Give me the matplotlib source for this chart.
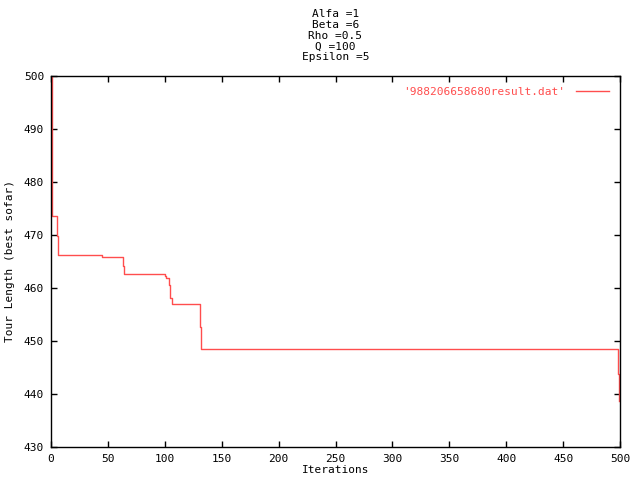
import matplotlib
matplotlib.use("Agg")
import matplotlib.pyplot as plt

# change points of best-so-far tour length (steps-post)
iterations = [0, 1, 5, 6, 45, 63, 64, 100, 101, 104, 105, 106, 131, 132, 498, 499]
tour_length = [520, 473.5, 469.8, 466.2, 465.8, 464.2, 462.6, 462.3, 461.9,
               460.6, 458.2, 457.0, 452.7, 448.4, 443.7, 438.7]
x_ticks = [0, 50, 100, 150, 200, 250, 300, 350, 400, 450, 500]
y_ticks = [430, 440, 450, 460, 470, 480, 490, 500]
title_lines = ["Alfa =1", "Beta =6", "Rho =0.5", "Q =100", "Epsilon =5"]
series_label = "'988206658680result.dat'"

red = "#ff4d4d"
plt.rcParams['font.family'] = ['DejaVu Sans Mono']
plt.rcParams['font.size'] = 8

fig = plt.figure(figsize=(6.4, 4.8), dpi=100)
ax = fig.add_axes([51/640, 1 - 447/480, (620-51)/640, (447-76)/480])

ax.plot(iterations, tour_length, drawstyle='steps-post', color=red, lw=1,
        label=series_label)

ax.set_xlim(0, 500)
ax.set_ylim(430, 500)
ax.set_xticks(x_ticks)
ax.set_yticks(y_ticks)
ax.tick_params(direction='in', length=4, width=1, top=True, right=True,
               colors='black', pad=5)
for s in ax.spines.values():
    s.set_linewidth(1)
    s.set_color('black')

ax.set_xlabel("Iterations", labelpad=1)
ax.set_ylabel("Tour Length (best sofar)", labelpad=6)

fig.text(335.5/640, 1 - 9/480, "\n".join(title_lines), ha='center', va='top',
         linespacing=1.1)

leg = ax.legend(loc='upper right', frameon=False, markerfirst=False,
                labelcolor=red, handlelength=3.0, borderaxespad=0.6,
                handletextpad=0.9)

fig.savefig("out.png", dpi=100, facecolor='white')
